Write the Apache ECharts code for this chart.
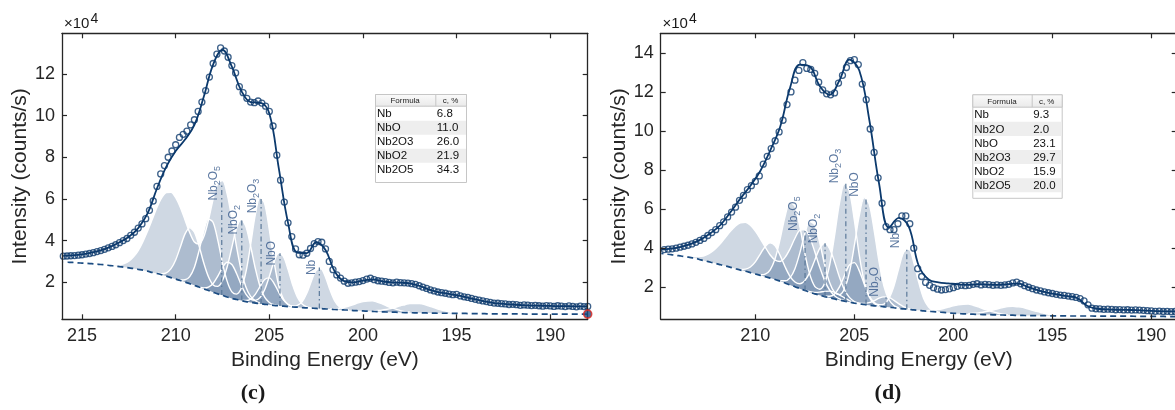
<!DOCTYPE html>
<html><head><meta charset="utf-8">
<script src="https://cdn.jsdelivr.net/npm/echarts@6.0.0/dist/echarts.min.js"></script>
<style>html,body{margin:0;padding:0;background:#fff;}#chart{width:1175px;height:410px;}</style>
</head><body><div id="chart"></div>
<script>
// ================= DATA =================
// tick labels
const xTicksC = [190, 195, 200, 205, 210, 215];
const yTicksC = [2, 4, 6, 8, 10, 12];
const xTicksD = [190, 195, 200, 205, 210];
const yTicksD = [2, 4, 6, 8, 10, 12, 14];

// ---- panel (c) ----  intensity in units of 1e4 counts/s
const cMeasStart = 188.0, cMeasStep = 0.2;
const cMeasured = [
0.84,0.83,0.85,0.82,0.84,0.86,0.83,0.85,0.87,0.84,
0.86,0.88,0.85,0.87,0.89,0.88,0.90,0.91,0.89,0.92,
0.94,0.93,0.96,0.97,0.99,1.00,1.03,1.07,1.10,1.14,
1.18,1.22,1.27,1.30,1.34,1.42,1.40,1.43,1.47,1.50,
1.53,1.58,1.63,1.70,1.76,1.83,1.90,1.93,1.96,1.97,
1.98,2.00,1.97,1.99,2.03,2.05,2.07,2.12,2.19,2.15,
2.08,2.03,2.00,1.97,1.95,2.05,2.20,2.35,2.60,3.00,
3.60,3.92,3.95,3.85,3.62,3.39,3.30,3.32,3.60,4.19,
4.85,5.85,6.90,8.10,9.50,10.20,10.45,10.60,10.70,10.62,
10.65,10.83,11.10,11.39,12.05,12.40,12.80,13.10,13.25,12.95,
12.50,11.85,11.20,10.65,10.20,9.80,9.55,9.25,9.10,8.95,
8.60,8.30,8.00,7.60,7.20,6.60,5.90,5.45,5.05,4.80,
4.60,4.40,4.25,4.10,4.00,3.90,3.80,3.72,3.65,3.58,
3.52,3.47,3.42,3.38,3.35,3.32,3.30,3.28,3.27,3.26,
3.25];
const cFitStart = 188.0, cFitStep = 0.5;
const cFit = [
0.84,0.84,0.85,0.85,0.86,0.87,0.88,0.90,0.93,0.96,
1.00,1.08,1.18,1.28,1.38,1.45,1.53,1.66,1.83,1.94,
1.98,1.99,2.05,2.14,2.08,1.99,2.05,2.50,3.55,3.92,
3.40,3.42,4.85,7.50,10.10,10.62,10.65,11.20,12.35,13.15,
12.45,10.90,9.55,8.85,8.30,7.55,6.50,5.30,4.60,4.18,
3.92,3.70,3.53,3.42,3.34,3.29,3.26];
const cBgStart = 188.0, cBgStep = 0.25;
const cBackground = [
0.47,0.47,0.47,0.47, 0.47,0.47,0.47,0.47, 0.47,0.47,0.47,0.47, 0.47,0.47,0.48,0.48,
0.48,0.48,0.48,0.48, 0.48,0.48,0.49,0.49, 0.49,0.49,0.50,0.50, 0.50,0.50,0.51,0.51,
0.51,0.52,0.52,0.53, 0.53,0.53,0.54,0.54, 0.55,0.56,0.56,0.57, 0.58,0.59,0.60,0.61,
0.62,0.63,0.64,0.66, 0.67,0.68,0.69,0.71, 0.72,0.73,0.74,0.76, 0.77,0.78,0.80,0.81,
0.83,0.85,0.87,0.89, 0.92,0.94,0.97,1.00, 1.03,1.07,1.12,1.17, 1.22,1.29,1.37,1.44,
1.52,1.60,1.68,1.77, 1.85,1.93,2.01,2.08, 2.15,2.22,2.29,2.36, 2.42,2.47,2.53,2.58,
2.62,2.66,2.69,2.72, 2.75,2.78,2.80,2.83, 2.85,2.87,2.89,2.91, 2.92,2.93,2.95,2.96,
2.97];
// component peaks: height above background, 0.25 eV steps from the given start
const cCompNames = ['Nb', 'NbO', 'Nb2O3', 'NbO2', 'Nb2O5'];
const cCompStart = [200.75, 202.75, 203.75, 204.5, 205.5];
const cNb    = [0.01,0.03,0.13,0.40,0.90,1.52,1.92,1.83,1.30,0.70,0.28,0.09,0.05,0.11,0.30,0.65,1.06,1.29,1.19,0.82,0.42,0.16,0.05,0.01];
const cNbO   = [0.01,0.05,0.17,0.48,1.05,1.79,2.39,2.53,2.09,1.36,0.70,0.29,0.13,0.16,0.36,0.75,1.25,1.63,1.67,1.34,0.85,0.42,0.17,0.05,0.01];
const cNb2O3 = [0.02,0.10,0.35,0.97,2.11,3.60,4.84,5.10,4.23,2.76,1.41,0.59,0.26,0.32,0.75,1.55,2.57,3.35,3.43,2.77,1.75,0.87,0.34,0.11,0.03];
const cNbO2  = [0.01,0.03,0.11,0.34,0.83,1.67,2.71,3.60,3.90,3.43,2.46,1.45,0.71,0.36,0.35,0.66,1.24,1.97,2.55,2.68,2.31,1.61,0.92,0.43,0.16,0.05,0.01];
const cNb2O5 = [0.03,0.11,0.29,0.70,1.44,2.53,3.81,4.94,5.51,5.30,4.46,3.38,2.50,2.06,2.08,2.45,2.98,3.51,3.91,4.10,4.01,3.69,3.17,2.55,1.93,1.37,0.90,0.56,0.32,0.18,0.09,0.04,0.02,0.01];
const cSatStart = [197.5, 195.0];
const cSat1 = [0.03,0.04,0.09,0.15,0.22,0.30,0.39,0.46,0.51,0.49,0.45,0.38,0.29,0.20,0.13,0.07,0.04,0.01];
const cSat2 = [0.03,0.05,0.09,0.14,0.20,0.27,0.35,0.41,0.44,0.45,0.44,0.38,0.32,0.24,0.17,0.12,0.08,0.05,0.02];
const cLineX    = [202.33, 204.43, 205.44, 206.47, 207.54];
const cLineBase = [0.74, 0.86, 0.96, 1.12, 1.39];
const cLineTop  = [2.71, 3.39, 6.14, 5.00, 6.75];
const cTableFormula = ['Nb', 'NbO', 'Nb2O3', 'NbO2', 'Nb2O5'];
const cTablePct = [6.8, 11.0, 26.0, 21.9, 34.3];

// ---- panel (d) ----
const dMeasStart = 188.8, dMeasStep = 0.2;
const dMeasured = [
0.76,0.75,0.77,0.76,0.78,0.77,0.79,0.80,0.82,0.83,
0.84,0.83,0.85,0.84,0.86,0.85,0.87,0.88,0.87,0.89,
0.90,0.93,1.10,1.30,1.42,1.48,1.52,1.55,1.58,1.60,
1.64,1.68,1.72,1.76,1.82,1.86,1.93,2.00,2.08,2.18,
2.26,2.22,2.15,2.12,2.10,2.12,2.10,2.13,2.15,2.12,
2.18,2.15,2.10,2.08,2.10,2.05,1.98,1.92,1.88,1.86,
1.90,1.98,2.10,2.25,2.55,2.95,4.00,5.25,5.65,5.65,
5.25,4.95,4.95,5.10,6.30,7.60,8.90,10.10,11.60,12.40,
13.40,13.65,13.60,13.25,12.85,12.45,11.95,11.85,11.90,12.10,
12.50,12.95,13.15,13.20,13.50,13.10,12.60,12.00,11.35,10.55,
9.95,9.50,9.10,8.70,8.30,7.70,7.42,7.20,7.00,6.70,
6.45,6.10,5.85,5.60,5.35,5.15,4.95,4.80,4.65,4.50,
4.40,4.30,4.22,4.15,4.10,4.05,4.00,3.97,3.95,3.93,
3.92];
const dFitStart = 188.75, dFitStep = 0.5;
const dFit = [
0.77,0.77,0.78,0.80,0.83,0.84,0.85,0.87,0.90,1.05,
1.45,1.55,1.63,1.73,1.85,2.02,2.20,2.16,2.12,2.13,
2.16,2.12,2.15,2.20,2.25,2.40,3.10,5.10,5.55,5.05,
7.30,10.60,13.10,13.65,12.60,11.85,12.30,13.30,13.40,12.20,
10.20,9.00,7.95,7.20,6.55,5.85,5.20,4.78,4.45,4.22,
4.07,3.98,3.93];
const dBgStart = 188.75, dBgStep = 0.25;
const dBackground = [
0.50,
0.50,0.50,0.51,0.51, 0.51,0.51,0.51,0.51, 0.52,0.52,0.52,0.52, 0.52,0.52,0.52,0.52,
0.53,0.53,0.53,0.53, 0.53,0.53,0.54,0.54, 0.54,0.54,0.55,0.55, 0.55,0.55,0.56,0.56,
0.57,0.57,0.58,0.58, 0.59,0.60,0.60,0.61, 0.62,0.63,0.64,0.65, 0.67,0.69,0.71,0.73,
0.75,0.77,0.79,0.82, 0.84,0.87,0.89,0.92, 0.95,0.98,1.00,1.03, 1.05,1.08,1.12,1.15,
1.19,1.24,1.29,1.34, 1.40,1.46,1.52,1.59, 1.66,1.75,1.84,1.93, 2.03,2.12,2.22,2.31,
2.40,2.47,2.54,2.61, 2.68,2.75,2.82,2.88, 2.95,3.02,3.09,3.15, 3.22,3.28,3.34,3.40,
3.48,3.52,3.56,3.60, 3.63,3.67,3.70,3.73];
const dCompNames = ['Nb', 'Nb2O', 'NbO', 'Nb2O3', 'NbO2', 'Nb2O5'];
const dCompStart = [200.75, 202.0, 202.75, 203.75, 204.75, 205.5];
const dNb    = [0.01,0.05,0.22,0.64,1.44,2.43,3.07,2.92,2.08,1.11,0.45,0.14,0.08,0.17,0.48,1.04,1.69,2.07,1.90,1.31,0.68,0.26,0.08,0.02];
const dNb2O  = [0.01,0.04,0.11,0.23,0.38,0.50,0.51,0.41,0.26,0.13,0.05,0.03,0.03,0.08,0.17,0.27,0.34,0.34,0.27,0.16,0.08,0.03,0.01];
const dNbO   = [0.02,0.11,0.38,1.04,2.26,3.86,5.18,5.47,4.53,2.95,1.51,0.63,0.28,0.34,0.78,1.63,2.70,3.53,3.61,2.91,1.84,0.92,0.36,0.11,0.03];
const dNb2O3 = [0.03,0.12,0.42,1.15,2.48,4.24,5.69,6.01,4.98,3.24,1.66,0.69,0.31,0.39,0.91,1.90,3.16,4.12,4.22,3.40,2.15,1.07,0.42,0.13,0.03];
const dNbO2  = [0.02,0.08,0.24,0.58,1.17,1.90,2.52,2.73,2.40,1.72,1.01,0.50,0.25,0.24,0.44,0.83,1.32,1.72,1.81,1.55,1.09,0.62,0.29,0.11,0.03,0.01];
const dNb2O5 = [0.02,0.06,0.17,0.40,0.82,1.44,2.16,2.80,3.11,2.99,2.48,1.84,1.31,1.01,0.99,1.18,1.51,1.87,2.19,2.42,2.50,2.42,2.19,1.86,1.48,1.10,0.77,0.50,0.31,0.18,0.09,0.05,0.02,0.01];
const dSatStart = [197.25, 194.75];
const dSat1 = [0.03,0.04,0.09,0.15,0.22,0.30,0.39,0.46,0.51,0.49,0.45,0.38,0.29,0.20,0.13,0.07,0.04,0.01];
const dSat2 = [0.03,0.05,0.09,0.14,0.20,0.27,0.35,0.41,0.44,0.45,0.44,0.38,0.32,0.24,0.17,0.12,0.08,0.05,0.02];
const dLineX    = [202.35, 203.40, 204.41, 205.43, 206.48, 207.49];
const dLineBase = [0.88, 1.00, 1.12, 1.29, 1.52, 1.84];
const dLineTop  = [4.00, 1.52, 6.63, 7.32, 4.25, 4.88];
const dTableFormula = ['Nb', 'Nb2O', 'NbO', 'Nb2O3', 'NbO2', 'Nb2O5'];
const dTablePct = [9.3, 2.0, 23.1, 29.7, 15.9, 20.0];

// ================= STYLE / LAYOUT =================
const NAVY = '#0c3a6d';
const AXIS = '#262626';
const FONT = '"Liberation Sans", Arial, Helvetica, sans-serif';
const LABEL_BLUE = '#34578a';

function xy(start, step, arr) {
  return arr.map((v, i) => [+(start + i * step).toFixed(3), v]);
}
function richName(name) {
  return name.replace(/([A-Za-z]+)|(\d)/g, (m, a, d) => a ? '{m|' + a + '}' : '{s|' + d + '}');
}

function panelSeries(gi, P) {
  const xa = gi * 2, ya = gi * 2;
  const out = [];
  // component peaks: absolute level = background + peak height, filled down, then masked below background
  P.comps.forEach((c) => {
    const off = Math.round((c.start - P.bgStart) / P.bgStep);
    const data = c.vals.map((v, i) => [+(P.bgStart + (off + i) * P.bgStep).toFixed(3), +(P.bg[off + i] + v).toFixed(3)]);
    out.push({type: 'line', xAxisIndex: xa, yAxisIndex: ya, data: data, symbol: 'none', smooth: 0.3,
      lineStyle: {color: '#ffffff', width: 1.4}, areaStyle: {color: '#5a7aa0', opacity: 0.29, origin: 'start'}, silent: true, z: 1});
  });
  // white mask below background + dashed background line
  out.push({type: 'line', xAxisIndex: xa, yAxisIndex: ya, data: xy(P.bgStart, P.bgStep, P.bg), symbol: 'none', smooth: 0.3,
    lineStyle: {color: '#1b4c82', width: 1.7, type: [6, 4]}, areaStyle: {color: '#ffffff', opacity: 1, origin: 'start'}, silent: true, z: 2});
  // component position lines
  P.lineX.forEach((x, k) => {
    out.push({type: 'line', xAxisIndex: xa, yAxisIndex: ya, data: [[x, P.lineBase[k]], [x, P.lineTop[k]]], symbol: 'none',
      lineStyle: {color: '#5a7899', width: 1.2, type: [5, 3, 1.5, 3]}, silent: true, z: 3});
  });
  // fit envelope
  out.push({type: 'line', xAxisIndex: xa, yAxisIndex: ya, data: xy(P.fitStart, P.fitStep, P.fit), symbol: 'none', smooth: 0.4,
    lineStyle: {color: NAVY, width: 1.8}, silent: true, z: 5});
  // measured points
  out.push({type: 'scatter', xAxisIndex: xa, yAxisIndex: ya, data: xy(P.measStart, P.measStep, P.meas), symbol: 'circle', symbolSize: 6,
    itemStyle: {color: 'rgba(0,0,0,0)', borderColor: NAVY, borderWidth: 1.3}, silent: true, z: 6});
  // labels
  out.push({type: 'scatter', xAxisIndex: xa, yAxisIndex: ya, data: P.lineX.map((x, k) => [x, P.lineTop[k]]), symbolSize: 1,
    itemStyle: {color: 'rgba(0,0,0,0)'}, silent: true, z: 7,
    label: {show: true, position: 'inside', rotate: 90, align: P.labelAlign, verticalAlign: 'bottom', offset: P.labelOffset,
      formatter: p => richName(P.names[p.dataIndex]),
      rich: {
        m: {fontSize: 12, color: LABEL_BLUE, fontFamily: FONT, verticalAlign: 'top', lineHeight: 14},
        s: {fontSize: 9, color: LABEL_BLUE, fontFamily: FONT, verticalAlign: 'bottom', lineHeight: 9, padding: [8, 0, 0, 0]}
      }}});
  return out;
}

const panelC = {
  bgStart: cBgStart, bgStep: cBgStep, bg: cBackground,
  fitStart: cFitStart, fitStep: cFitStep, fit: cFit,
  measStart: cMeasStart, measStep: cMeasStep, meas: cMeasured,
  comps: [
    {start: cSatStart[0], vals: cSat1}, {start: cSatStart[1], vals: cSat2},
    {start: cCompStart[4], vals: cNb2O5}, {start: cCompStart[3], vals: cNbO2}, {start: cCompStart[2], vals: cNb2O3},
    {start: cCompStart[1], vals: cNbO}, {start: cCompStart[0], vals: cNb}],
  lineX: cLineX, lineBase: cLineBase, lineTop: cLineTop, names: cCompNames,
  labelAlign: 'center', labelOffset: [0, 0]
};
const panelD = {
  bgStart: dBgStart, bgStep: dBgStep, bg: dBackground,
  fitStart: dFitStart, fitStep: dFitStep, fit: dFit,
  measStart: dMeasStart, measStep: dMeasStep, meas: dMeasured,
  comps: [
    {start: dSatStart[0], vals: dSat1}, {start: dSatStart[1], vals: dSat2},
    {start: dCompStart[5], vals: dNb2O5}, {start: dCompStart[4], vals: dNbO2}, {start: dCompStart[3], vals: dNb2O3},
    {start: dCompStart[2], vals: dNbO}, {start: dCompStart[1], vals: dNb2O}, {start: dCompStart[0], vals: dNb}],
  lineX: dLineX, lineBase: dLineBase, lineTop: dLineTop, names: dCompNames,
  labelAlign: 'left', labelOffset: [0, -3]
};

function xAxes(gi, min, max, ticks) {
  const common = {gridIndex: gi, type: 'value', inverse: true, min: min, max: max,
    axisLine: {show: true, onZero: false, lineStyle: {color: AXIS, width: 1.3}},
    axisTick: {show: true, inside: true, length: 5, customValues: ticks, lineStyle: {color: AXIS, width: 1.2}},
    splitLine: {show: false}, z: 10};
  return [
    Object.assign({}, common, {position: 'bottom',
      axisLabel: {show: true, customValues: ticks, fontSize: 18, color: AXIS, fontFamily: FONT, margin: 8},
      name: 'Binding Energy (eV)', nameLocation: 'middle', nameGap: 28,
      nameTextStyle: {fontSize: 21, color: AXIS, fontFamily: FONT}}),
    Object.assign({}, common, {position: 'top', axisLabel: {show: false}})
  ];
}
function yAxes(gi, min, max, ticks) {
  const common = {gridIndex: gi, type: 'value', min: min, max: max,
    axisLine: {show: true, onZero: false, lineStyle: {color: AXIS, width: 1.3}},
    axisTick: {show: true, inside: true, length: 5, customValues: ticks, lineStyle: {color: AXIS, width: 1.2}},
    splitLine: {show: false}, z: 10};
  return [
    Object.assign({}, common, {position: 'left',
      axisLabel: {show: true, customValues: ticks, fontSize: 18, color: AXIS, fontFamily: FONT, margin: 7},
      name: 'Intensity (counts/s)', nameLocation: 'middle', nameGap: 30, nameRotate: 90,
      nameTextStyle: {fontSize: 21, color: AXIS, fontFamily: FONT}}),
    Object.assign({}, common, {position: 'right', axisLabel: {show: false}})
  ];
}

function tableGraphics(x0, y0, w1, w2, hh, rh, extra, formulas, pcts) {
  const els = [];
  const W = w1 + w2, H = hh + rh * formulas.length + extra;
  els.push({type: 'rect', shape: {x: x0 + 0.5, y: y0 + 0.5, width: W, height: H}, style: {fill: '#ffffff', stroke: '#c6c6c6', lineWidth: 1}, z: 20});
  els.push({type: 'rect', shape: {x: x0 + 0.5, y: y0 + 0.5, width: W, height: hh},
    style: {fill: new echarts.graphic.LinearGradient(0, 0, 0, 1, [{offset: 0, color: '#fbfbfb'}, {offset: 1, color: '#e9e9e9'}]), stroke: '#c6c6c6', lineWidth: 1}, z: 21});
  els.push({type: 'line', shape: {x1: x0 + w1 + 0.5, y1: y0 + 0.5, x2: x0 + w1 + 0.5, y2: y0 + hh + 0.5}, style: {stroke: '#c6c6c6', lineWidth: 1}, z: 22});
  els.push({type: 'text', x: x0 + w1 / 2, y: y0 + hh / 2 + 1, style: {text: 'Formula', font: '8px ' + FONT, fill: '#222', align: 'center', verticalAlign: 'middle', textAlign: 'center', textVerticalAlign: 'middle'}, z: 23});
  els.push({type: 'text', x: x0 + w1 + w2 / 2, y: y0 + hh / 2 + 1, style: {text: 'c, %', font: '8px ' + FONT, fill: '#222', align: 'center', verticalAlign: 'middle', textAlign: 'center', textVerticalAlign: 'middle'}, z: 23});
  formulas.forEach((f, i) => {
    const y = y0 + hh + i * rh;
    if (i % 2 === 1) {
      els.push({type: 'rect', shape: {x: x0 + 1, y: y + 1, width: W - 1, height: rh}, style: {fill: '#eeeeee'}, z: 21});
    }
    els.push({type: 'text', x: x0 + 2, y: y + rh / 2 + 1.5, style: {text: f, font: '11.5px ' + FONT, fill: '#111', align: 'left', verticalAlign: 'middle', textAlign: 'left', textVerticalAlign: 'middle'}, z: 23});
    els.push({type: 'text', x: x0 + w1 + 1.5, y: y + rh / 2 + 1.5, style: {text: pcts[i].toFixed(1), font: '11.5px ' + FONT, fill: '#111', align: 'left', verticalAlign: 'middle', textAlign: 'left', textVerticalAlign: 'middle'}, z: 23});
  });
  return els;
}

function txt(x, y, s, font, align) {
  return {type: 'text', x: x, y: y, style: {text: s, font: font, fill: '#1a1a1a', align: align || 'left', verticalAlign: 'middle', textAlign: align || 'left', textVerticalAlign: 'middle'}, z: 30};
}

const series = [].concat(panelSeries(0, panelC), panelSeries(1, panelD));
// end-point marker (c)
series.push({type: 'scatter', xAxisIndex: 0, yAxisIndex: 0, data: [[cBgStart, cBackground[0]]], symbol: 'circle', symbolSize: 8, clip: false,
  itemStyle: {color: '#1b4c82', borderColor: '#e3261d', borderWidth: 1.6}, silent: true, z: 12});

const graphics = []
  .concat(tableGraphics(375, 94, 60.3, 30.7, 11.7, 14, 6.3, cTableFormula, cTablePct))
  .concat(tableGraphics(972.3, 94.3, 59.4, 30, 12.4, 14.1, 6.5, dTableFormula, dTablePct))
  .concat([
    txt(64, 23.5, '×10', '15px ' + FONT), txt(90.5, 19.5, '4', '14px ' + FONT),
    txt(662.5, 23.5, '×10', '15px ' + FONT), txt(689, 19.5, '4', '14px ' + FONT),
    txt(253, 393, '(c)', 'bold 22px "Liberation Serif", "Times New Roman", serif', 'center'),
    txt(888, 393, '(d)', 'bold 22px "Liberation Serif", "Times New Roman", serif', 'center')
  ]);

const chart = echarts.init(document.getElementById('chart'), null, {renderer: 'canvas'});
chart.setOption({
  animation: false,
  backgroundColor: '#ffffff',
  grid: [
    {left: 62, top: 33.3, width: 525.7, height: 286, outerBoundsMode: 'none', containLabel: false},
    {left: 660.7, top: 33.3, width: 516, height: 286, outerBoundsMode: 'none', containLabel: false}
  ],
  xAxis: [].concat(xAxes(0, 188, 216.07, xTicksC), xAxes(1, 188.72, 214.78, xTicksD)),
  yAxis: [].concat(yAxes(0, 0.22, 13.95, yTicksC), yAxes(1, 0.36, 15, yTicksD)),
  series: series,
  graphic: graphics
});
</script></body></html>
